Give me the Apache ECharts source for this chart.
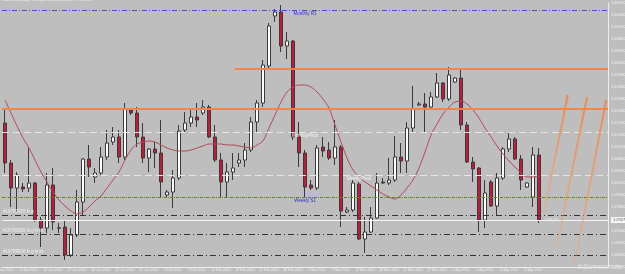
<!DOCTYPE html>
<html>
<head>
<meta charset="utf-8">
<script src="https://cdn.jsdelivr.net/npm/echarts@6/dist/echarts.min.js"></script>
<style>
html, body { margin: 0; padding: 0; background: #bebebe; }
#chart { width: 625px; height: 274px; }
</style>
</head>
<body>
<div id="chart"></div>
<script>
// daily candles
var tickDates = ['3 Jan 2012', '9 Jan 2012', '12 Jan 2012', '17 Jan 2012', '20 Jan 2012', '25 Jan 2012',
    '31 Jan 2012', '3 Feb 2012', '9 Feb 2012', '14 Feb 2012', '19 Feb 2012', '22 Feb 2012', '28 Feb 2012',
    '4 Mar 2012', '8 Mar 2012', '13 Mar 2012', '18 Mar 2012', '22 Mar 2012', '27 Mar 2012', '1 Apr 2012',
    '5 Apr 2012', '10 Apr 2012', '15 Apr 2012'];

var opens = [1.31700, 1.30700, 1.30075, 1.30100, 1.30075, 1.30200, 1.29275, 1.29075, 1.30150, 1.29080,
    1.29100, 1.28400, 1.28900, 1.29725, 1.30800, 1.30350, 1.30450, 1.30850, 1.31225, 1.31350,
    1.30850, 1.32025, 1.31950, 1.31350, 1.30825, 1.31050, 1.30950, 1.29900, 1.29975, 1.30325,
    1.31525, 1.31700, 1.31850, 1.31950, 1.32100, 1.31350, 1.30775, 1.30225, 1.30475, 1.30700,
    1.30775, 1.31025, 1.31725, 1.32200, 1.33125, 1.34375, 1.34475, 1.33625, 1.33750, 1.31375,
    1.30950, 1.30150, 1.30075, 1.31100, 1.31025, 1.30825, 1.31100, 1.29475, 1.29525, 1.30175,
    1.28800, 1.28975, 1.29325, 1.30225, 1.30200, 1.30275, 1.30850, 1.30750, 1.31575, 1.32150,
    1.32175, 1.32100, 1.32350, 1.32700, 1.32300, 1.32725, 1.32825, 1.31650, 1.30725, 1.30575,
    1.29275, 1.30225, 1.29625, 1.30325, 1.31050, 1.31300, 1.30800, 1.30100, 1.29850, 1.30900];
var closes = [1.30700, 1.30075, 1.30400, 1.30050, 1.30200, 1.29275, 1.29075, 1.30150, 1.29225, 1.29070,
    1.28400, 1.28900, 1.29725, 1.30800, 1.30600, 1.30450, 1.30850, 1.31200, 1.31350, 1.30850,
    1.32050, 1.31950, 1.31350, 1.30825, 1.31050, 1.30950, 1.30225, 1.29975, 1.30325, 1.31500,
    1.31700, 1.31850, 1.31775, 1.32100, 1.31350, 1.30775, 1.30225, 1.30475, 1.30575, 1.30775,
    1.31025, 1.31725, 1.32200, 1.33150, 1.34125, 1.34475, 1.33625, 1.33750, 1.31350, 1.30950,
    1.30100, 1.30075, 1.31075, 1.31000, 1.30825, 1.31100, 1.29500, 1.29525, 1.30200, 1.28800,
    1.28975, 1.29325, 1.30200, 1.30200, 1.30275, 1.30850, 1.30750, 1.31575, 1.32050, 1.32175,
    1.32100, 1.32350, 1.32700, 1.32300, 1.32900, 1.32825, 1.31650, 1.30725, 1.30550, 1.29275,
    1.29950, 1.29625, 1.30325, 1.31050, 1.31300, 1.30800, 1.30275, 1.30200, 1.30900, 1.29275];
var lows = [1.30450, 1.29600, 1.29475, 1.29975, 1.29975, 1.29225, 1.28600, 1.28950, 1.29025, 1.28950,
    1.28275, 1.28350, 1.28850, 1.29400, 1.30350, 1.30200, 1.30400, 1.30775, 1.31150, 1.30700,
    1.30775, 1.31900, 1.31100, 1.30700, 1.30475, 1.30575, 1.29850, 1.29850, 1.29575, 1.30275,
    1.31475, 1.31600, 1.31600, 1.31900, 1.31325, 1.30725, 1.29825, 1.29825, 1.30275, 1.30600,
    1.30600, 1.30975, 1.31450, 1.32100, 1.33075, 1.34225, 1.33475, 1.33300, 1.31275, 1.30600,
    1.29850, 1.30025, 1.30025, 1.30850, 1.30775, 1.30650, 1.29100, 1.29450, 1.29475, 1.28775,
    1.28450, 1.28950, 1.29300, 1.30175, 1.30150, 1.30225, 1.30450, 1.30450, 1.31450, 1.32125,
    1.31475, 1.32075, 1.32325, 1.32225, 1.32250, 1.32700, 1.31525, 1.30700, 1.30225, 1.28975,
    1.29075, 1.29600, 1.29400, 1.30275, 1.30975, 1.30775, 1.30025, 1.30075, 1.29600, 1.29200];
var highs = [1.32025, 1.30775, 1.30475, 1.30200, 1.31075, 1.30225, 1.29350, 1.30450, 1.30575, 1.29200,
    1.29275, 1.29075, 1.30025, 1.30825, 1.31150, 1.30575, 1.31100, 1.31525, 1.31600, 1.31525,
    1.32200, 1.32075, 1.32100, 1.31700, 1.31075, 1.31225, 1.31775, 1.30025, 1.30525, 1.31650,
    1.31975, 1.32075, 1.32200, 1.32275, 1.32150, 1.31650, 1.30950, 1.30700, 1.30950, 1.30950,
    1.31200, 1.31850, 1.32275, 1.33275, 1.34200, 1.34550, 1.34650, 1.33975, 1.33775, 1.31725,
    1.31025, 1.30275, 1.31150, 1.31350, 1.31225, 1.31775, 1.31150, 1.29600, 1.30275, 1.30225,
    1.29350, 1.29600, 1.30450, 1.30325, 1.30825, 1.31375, 1.31200, 1.31725, 1.32625, 1.32225,
    1.32450, 1.32475, 1.32950, 1.32725, 1.33100, 1.32850, 1.33025, 1.31725, 1.30850, 1.30600,
    1.30275, 1.30275, 1.30450, 1.31100, 1.31450, 1.31350, 1.30900, 1.30225, 1.31100, 1.31075];
// moving average
var maValues = [1.32275, 1.31950, 1.31625, 1.31325, 1.31075, 1.30775, 1.30475, 1.30225, 1.29975, 1.29775,
    1.29625, 1.29500, 1.29425, 1.29475, 1.29600, 1.29750, 1.29875, 1.30075, 1.30275, 1.30475,
    1.30775, 1.31025, 1.31175, 1.31225, 1.31250, 1.31225, 1.31150, 1.31075, 1.31025, 1.31000,
    1.31000, 1.31025, 1.31075, 1.31125, 1.31175, 1.31175, 1.31175, 1.31150, 1.31150, 1.31125,
    1.31100, 1.31075, 1.31150, 1.31250, 1.31575, 1.31900, 1.32225, 1.32475, 1.32600, 1.32650,
    1.32650, 1.32600, 1.32475, 1.32300, 1.32075, 1.31650, 1.31225, 1.30825, 1.30525, 1.30350,
    1.30225, 1.30125, 1.30025, 1.29925, 1.29850, 1.29800, 1.29900, 1.30075, 1.30275, 1.30575,
    1.30975, 1.31400, 1.31675, 1.31925, 1.32100, 1.32225, 1.32250, 1.32175, 1.32025, 1.31825,
    1.31575, 1.31350, 1.31125, 1.30925, 1.30750, 1.30600, 1.30450, 1.30350, 1.30350, 1.30375];

var levelNames = ['Monthly R1', 'MonthlyPivot', 'WeeklyPivot', 'Weekly S1',
    '#16789926 buy', '#16789926 buy limit', '#16789926 buy limit'];
var levelPrices = [1.34525, 1.31475, 1.30400, 1.29850, 1.29400, 1.28925, 1.28400];
var bidPrice = 1.29275;
var profitText = '+430.20';
var resistancePrices = [1.32063, 1.33050];
var resistanceStart = 38.3;   // candle index where the upper line starts
var arrowStarts = [[89.8, 1.29450], [92.0, 1.28650], [95.0, 1.28225]];
var arrowEnds = [[93.8, 1.32400], [97.0, 1.32350], [100.2, 1.32275]];

var extraSlots = 11;   // empty room right of the last candle

var candles = opens.map(function (o, i) {
    return [o, closes[i], lows[i], highs[i]];
});
var categories = [];
for (var i = 0; i < opens.length + extraSlots; i++) {
    categories.push(i % 4 === 0 && tickDates[i / 4] ? tickDates[i / 4] : '');
}

var FONT = 'Liberation Sans';
var orange = '#f0864a';

var levelStyles = [
    { color: '#4a4ac4', type: [5, 2, 1, 2], text: '#2e2ecc', pos: 'insideMiddleBottom', box: '#2a2ad2', boxText: '#ffffff' },
    { color: '#e6e6e6', type: [7, 4], text: '#f4f4f4', pos: 'insideMiddleBottom', box: '#f6f6f6', boxText: '#555555' },
    { color: '#e6e6e6', type: [7, 4], text: '#f4f4f4', pos: 'insideMiddleBottom', shift: 108, box: '#f6f6f6', boxText: '#555555' },
    { color: '#5e5ee4', type: [3, 1, 1, 1], text: '#2e2ecc', pos: 'insideMiddleBottom', box: '#2a2ad2', boxText: '#ffffff' },
    { color: '#333333', type: [6, 3, 1, 3], text: '#eeeeee', pos: 'insideStartTop' },
    { color: '#333333', type: [6, 3, 1, 3], text: '#eeeeee', pos: 'insideStartTop' },
    { color: '#333333', type: [6, 3, 1, 3], text: '#eeeeee', pos: 'insideStartTop' }
];

var levelLines = [];
levelPrices.forEach(function (p, i) {
    var s = levelStyles[i];
    levelLines.push({
        yAxis: p,
        lineStyle: { color: s.color, type: s.type, width: 1 },
        label: {
            show: true, position: s.pos, formatter: levelNames[i], color: s.text,
            fontSize: 4.5, fontFamily: FONT, distance: 1,
            padding: s.shift ? [0, 0, 0, s.shift] : 0
        }
    });
    if (s.box) {
        levelLines.push({
            yAxis: p,
            lineStyle: { opacity: 0 },
            label: {
                show: true, position: 'end', formatter: p.toFixed(5), distance: 3,
                backgroundColor: s.box, color: s.boxText, fontSize: 4, fontFamily: FONT, padding: [1, 2]
            }
        });
    }
});
levelLines.push({
    yAxis: bidPrice,
    lineStyle: { color: '#f4f4f4', type: 'solid', width: 1 },
    label: {
        show: true, position: 'end', formatter: bidPrice.toFixed(5), distance: 3,
        backgroundColor: '#f6f6f6', color: '#555555', fontSize: 4, fontFamily: FONT, padding: [1, 2]
    }
});

var arrowLines = arrowStarts.map(function (a, i) {
    return [
        { coord: a },
        {
            coord: arrowEnds[i],
            lineStyle: {
                width: 2,
                type: 'solid',
                color: new echarts.graphic.LinearGradient(0, 1, 0, 0, [
                    { offset: 0, color: 'rgba(245,160,110,0.3)' },
                    { offset: 1, color: orange }
                ])
            }
        }
    ];
});

var myChart = echarts.init(document.getElementById('chart'));
var option = {
    backgroundColor: '#bebebe',
    animation: false,
    textStyle: { fontFamily: FONT },
    grid: { left: 2, right: 17, top: 3, bottom: 7, containLabel: false, outerBoundsMode: 'none' },
    graphic: [
        { type: 'text', left: 2, top: -2,
          style: { text: 'EURUSD,Daily  1.29305 1.29430 1.29077 1.29275', fill: '#f4f4f4', fontSize: 4, fontFamily: FONT } },
        { type: 'text', right: 3, bottom: 3,
          style: { text: 'fxScreenshots', fill: 'rgba(255,255,255,0.55)', fontSize: 7, fontStyle: 'italic', fontFamily: FONT } }
    ],
    xAxis: [{
        type: 'category',
        data: categories,
        boundaryGap: true,
        axisLine: { show: true, onZero: false, lineStyle: { color: '#ececec', width: 1 } },
        axisTick: { show: false },
        axisLabel: { interval: 0, color: '#efefef', fontSize: 3.5, margin: 1, fontFamily: FONT },
        splitLine: { show: false }
    }, {
        type: 'value',
        min: -0.5,
        max: opens.length + extraSlots - 0.5,
        show: false
    }],
    yAxis: {
        type: 'value',
        position: 'right',
        min: 1.281,
        max: 1.347,
        interval: 0.003,
        axisLine: { show: true, onZero: false, lineStyle: { color: '#ececec', width: 1 } },
        axisTick: { show: false },
        splitLine: { show: false },
        axisLabel: {
            color: '#f0f0f0', fontSize: 4, margin: 3, fontFamily: FONT,
            formatter: function (v) { return v.toFixed(5); }
        }
    },
    series: [{
        name: 'EURUSD',
        type: 'candlestick',
        data: candles,
        barWidth: 4,
        itemStyle: {
            color: '#ffffff',
            color0: '#c8173c',
            borderColor: '#3a3a3a',
            borderColor0: '#3a3a3a',
            borderColorDoji: '#3a3a3a',
            borderWidth: 1
        },
        markLine: {
            silent: true,
            precision: 5,
            symbol: ['none', 'none'],
            data: levelLines
        },
        markPoint: {
            silent: true,
            symbol: 'circle',
            symbolSize: 0,
            data: [{
                coord: [opens.length - 1, bidPrice],
                label: { show: true, position: 'right', distance: 4, formatter: profitText,
                         color: '#f4f4f4', fontSize: 4, fontFamily: FONT }
            }]
        }
    }, {
        name: 'MA',
        type: 'line',
        data: maValues,
        symbol: 'none',
        smooth: 0.3,
        lineStyle: { color: '#b44a58', width: 1 },
        z: 3
    }, {
        name: 'annotations',
        type: 'line',
        xAxisIndex: 1,
        data: [],
        markLine: {
            silent: true,
            precision: 5,
            symbol: ['none', 'none'],
            lineStyle: { color: orange, width: 2, type: 'solid' },
            label: { show: false },
            data: [
                { yAxis: resistancePrices[0] },
                [{ coord: [resistanceStart, resistancePrices[1]] },
                 { coord: [opens.length + extraSlots - 0.5, resistancePrices[1]] }]
            ]
        }
    }, {
        name: 'arrows',
        type: 'line',
        xAxisIndex: 1,
        data: [],
        markLine: {
            silent: true,
            precision: 5,
            symbol: ['none', 'arrow'],
            symbolSize: [0, 9],
            label: { show: false },
            lineStyle: { color: orange, width: 2, type: 'solid' },
            data: arrowLines
        }
    }]
};
myChart.setOption(option);
</script>
</body>
</html>
